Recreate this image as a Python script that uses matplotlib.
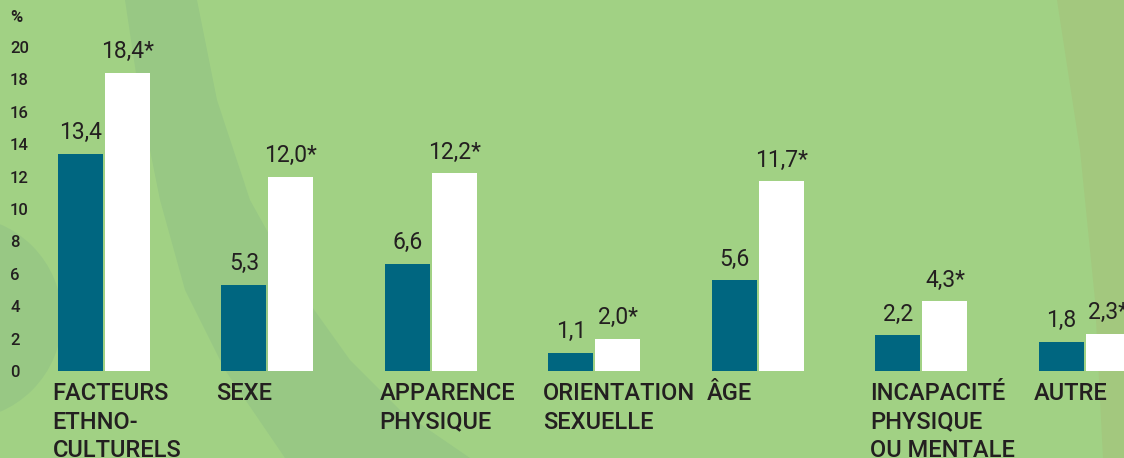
import matplotlib
matplotlib.use('Agg')
import matplotlib.pyplot as plt
from matplotlib.patches import Polygon, Ellipse
import numpy as np

plt.rcParams['font.family'] = ['Roboto', 'DejaVu Sans']

categories = ['FACTEURS\nETHNO-\nCULTURELS', 'SEXE', 'APPARENCE\nPHYSIQUE',
              'ORIENTATION\nSEXUELLE', 'ÂGE', 'INCAPACITÉ\nPHYSIQUE\nOU MENTALE', 'AUTRE']
serie_1 = [13.4, 5.3, 6.6, 1.1, 5.6, 2.2, 1.8]
serie_2 = [18.4, 12.0, 12.2, 2.0, 11.7, 4.3, 2.3]
star_2 = ['*', '*', '*', '*', '*', '*', '*']
yticks = [0, 2, 4, 6, 8, 10, 12, 14, 16, 18, 20]

BG = '#a1d184'
BAND = '#98c884'
RIGHT = '#a3c87e'
TEAL = '#006680'
TXT = '#231f20'

W, H = 1124, 458
fig = plt.figure(figsize=(W / 100, H / 100), dpi=100)
fig.patch.set_facecolor(BG)

# decorative background shapes (figure pixel coords, y from top)
def px(pts):
    return [(x / W, 1 - y / H) for x, y in pts]

band = Polygon(px([(125, 0), (197, 0), (217, 100), (250, 200), (300, 290), (350, 360), (400, 410),
                   (470, 458), (285, 458), (225, 370), (185, 290), (160, 200), (140, 100)]),
               closed=True, transform=fig.transFigure, facecolor=BAND, edgecolor='none', zorder=-5)
fig.patches.append(band)
right = Polygon(px([(1057, 0), (1124, 0), (1124, 458), (1103, 458), (1095, 300), (1080, 150)]),
                closed=True, transform=fig.transFigure, facecolor=RIGHT, edgecolor='none', zorder=-5)
fig.patches.append(right)
ell = Ellipse((-40 / W, 1 - 318 / H), 2 * 102 / W, 2 * 102 / H,
              transform=fig.transFigure, facecolor=BAND, edgecolor='none', zorder=-5)
fig.patches.append(ell)

# axes: zero line at y=371 px, 16.2 px per unit
unit = 16.2
y0 = 371
ax = fig.add_axes([40 / W, (H - y0) / H, (W - 40) / W, 22 * unit / H])
ax.set_facecolor('none')
ax.set_zorder(5)

step = 163.5
width = 45 / step
off = (45 + 2) / 2 / step
x = np.arange(len(categories))
x_lo = -0.281 - (58 - 40) / step
ax.set_xlim(x_lo, x_lo + (W - 40) / step)
ax.set_ylim(0, 22)

ax.bar(x - off, serie_1, width, color=TEAL, zorder=2)
ax.bar(x + off, serie_2, width, color='white', zorder=2)

for xi, v in zip(x, serie_1):
    ax.annotate(f'{v:.1f}'.replace('.', ','), (xi - off, v), xytext=(0, 7), textcoords='offset points',
                ha='center', va='bottom', fontsize=16.5, color=TXT, annotation_clip=False)
for xi, v, s in zip(x, serie_2, star_2):
    ax.annotate(f'{v:.1f}'.replace('.', ',') + s, (xi + off, v), xytext=(0, 7), textcoords='offset points',
                ha='center', va='bottom', fontsize=16.5, color=TXT, annotation_clip=False)

for xi, lab in zip(x, categories):
    ax.annotate(lab, (xi - off - width / 2, 0), xytext=(-4, -8), textcoords='offset points',
                ha='left', va='top', fontsize=17, fontweight='medium', color=TXT, linespacing=1.3,
                annotation_clip=False)

ax.set_xticks([])
ax.set_yticks(yticks)
ax.set_yticklabels([str(t) for t in yticks], ha='left', fontweight='medium')
ax.tick_params(axis='y', length=0, pad=21.6, labelsize=12, labelcolor=TXT)
for s in ax.spines.values():
    s.set_visible(False)

fig.text(10 / W, 1 - 18 / H, '%', ha='left', va='center', fontsize=12, fontweight='bold', color=TXT)

fig.savefig('out.png', dpi=100, facecolor=BG)
